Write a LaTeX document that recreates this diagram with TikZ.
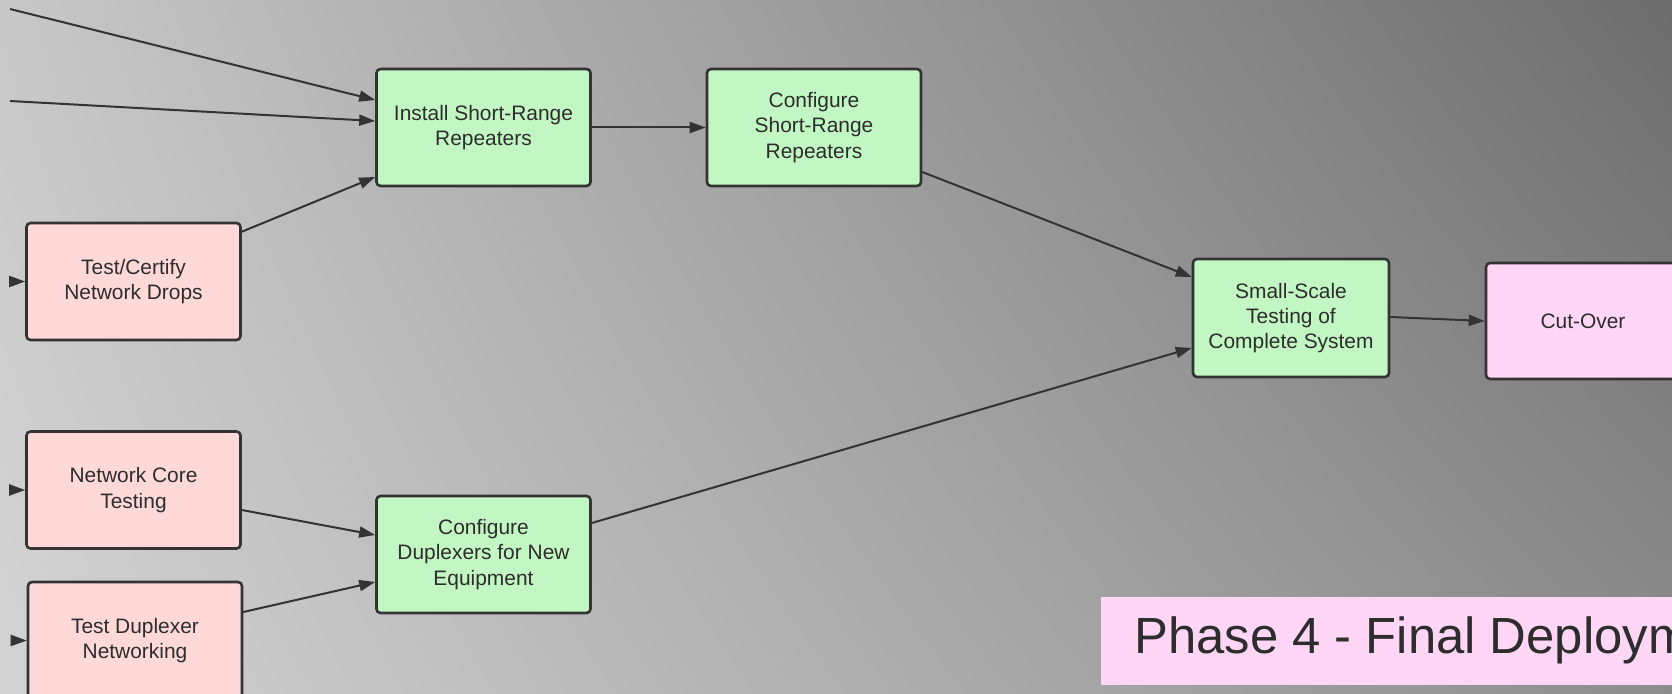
\documentclass[tikz,border=0pt]{standalone}
\usepackage{fontspec}
\setmainfont{Liberation Sans}
\usetikzlibrary{arrows.meta}

% Grey backdrop: light in the lower left, dark in the upper right (bilinear blend),
% made a few points larger than the page so its edges never show
\pgfdeclarefunctionalshading{backdrop}{\pgfpointorigin}{\pgfpoint{1678bp}{700bp}}{}{
700 div exch 1678 div exch
2 copy mul -0.079 mul
exch -0.047 mul add
exch -0.281 mul add
0.831 add
dup dup
}

\definecolor{edgegray}{RGB}{51,51,51}
\definecolor{textgray}{RGB}{45,45,45}
\definecolor{okgreen}{RGB}{194,246,194}
\definecolor{testred}{RGB}{255,216,216}
\definecolor{finalpink}{RGB}{255,214,246}

\tikzset{
  task/.style={draw=edgegray, line width=2.6bp, rounded corners=4bp,
    minimum width=214bp, minimum height=117bp, inner sep=0pt,
    align=center, text=textgray, font=\fontsize{21}{25.5}\selectfont},
  greenbox/.style={task, fill=okgreen},
  redbox/.style={task, fill=testred},
  pinkbox/.style={task, fill=finalpink},
  flow/.style={draw=edgegray, line width=2bp,
    -{Triangle[length=16bp, width=11bp]}},
}

\begin{document}
\begin{tikzpicture}[x=1bp, y=-1bp]
\useasboundingbox (0,0) rectangle (1672,694);
\clip (0,0) rectangle (1672,694);

\fill[gray] (-5,-5) rectangle (1677,699);
\node[inner sep=0pt, outer sep=0pt, anchor=north west] (backdrop) at (-3,-3)
  {\pgfuseshading{backdrop}};

% task boxes
\node[greenbox] (ins) at (483.5,127.5) {Install Short-Range\\Repeaters};
\node[greenbox] (csr) at (814,127.5) {Configure\\Short-Range\\Repeaters};
\node[redbox]   (tcd) at (133.5,281.5) {Test/Certify\\Network Drops};
\node[greenbox, minimum width=196bp, minimum height=118bp] (sst) at (1291,318)
  {Small-Scale\\Testing of\\Complete System};
\node[pinkbox, minimum width=194bp, minimum height=116bp] (cut) at (1583,321) {Cut-Over};
\node[redbox]   (nct) at (133.5,490) {Network Core\\Testing};
\node[greenbox] (cdn) at (483.5,554.5) {Configure\\Duplexers for New\\Equipment};
\node[redbox]   (tdn) at (135,640.5) {Test Duplexer\\Networking};

% loose ends of incoming connectors
\coordinate (src1) at (10,9);
\coordinate (src2) at (10,101);
\coordinate (in1) at (11,281.5);
\coordinate (in2) at (11,490);
\coordinate (in3) at (11,640.5);

% connectors
\draw[flow] (src1) -- ([yshift=27.5bp]ins.west);
\draw[flow] (src2) -- ([yshift=6.5bp]ins.west);
\draw[flow] ([yshift=-10bp]tcd.north east) -- ([yshift=-49.5bp]ins.west);
\draw[flow] (ins.east) -- (csr.west);
\draw[flow] ([yshift=-44.5bp]csr.east) -- ([yshift=41bp]sst.west);
\draw[flow] ([yshift=31.5bp]cdn.east) -- ([yshift=-30bp]sst.west);
\draw[flow] ([yshift=-20bp]nct.east) -- ([yshift=19.5bp]cdn.west);
\draw[flow] ([yshift=28.5bp]tdn.east) -- ([yshift=-27.5bp]cdn.west);
\draw[flow] ([yshift=1bp]sst.east) -- (cut.west);
\draw[flow] (in1) -- (tcd.west);
\draw[flow] (in2) -- (nct.west);
\draw[flow] (in3) -- (tdn.west);

% phase banner, running off the right edge
\fill[finalpink] (1101,597) rectangle (1700,685);
\node[anchor=base west, inner sep=0pt, text=textgray,
  font=\fontsize{51}{60}\selectfont] (title) at (1134,653) {Phase 4 - Final Deployment};
\end{tikzpicture}
\end{document}
